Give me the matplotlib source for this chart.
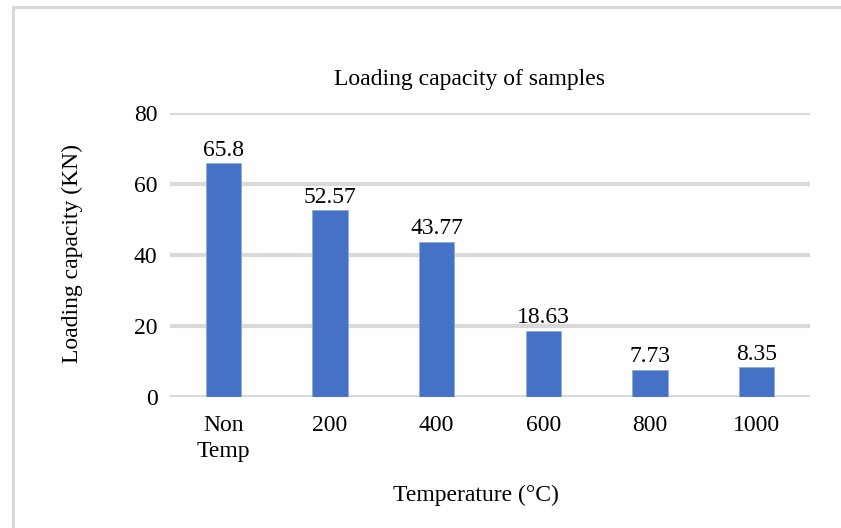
import matplotlib
matplotlib.use('Agg')
import matplotlib.pyplot as plt
from matplotlib.patches import Rectangle

categories = ['Non\nTemp', '200', '400', '600', '800', '1000']
loading_kn = [65.8, 52.57, 43.77, 18.63, 7.73, 8.35]
value_labels = ['65.8', '52.57', '43.77', '18.63', '7.73', '8.35']
yticks = [0, 20, 40, 60, 80]

plt.rcParams['font.family'] = ['Liberation Serif', 'DejaVu Serif']

W, H = 841, 528
fig = plt.figure(figsize=(W / 100, H / 100), dpi=100)

# outer chart frame (only the left and top edges show)
fig.patches.append(Rectangle((12 / W, -0.1), 3 / W, 1.1 - 6 / H, transform=fig.transFigure,
                             facecolor='#d9d9d9', edgecolor='none'))
fig.patches.append(Rectangle((12 / W, 1 - 9 / H), 1.0, 3 / H, transform=fig.transFigure,
                             facecolor='#d9d9d9', edgecolor='none'))

ax = fig.add_axes([170 / W, 1 - 397 / H, 640 / W, 284 / H])
x = list(range(len(categories)))
ax.bar(x, loading_kn, width=0.33, color='#4472c4', edgecolor='#8eaadb', linewidth=0.6, zorder=3)

for xi, v, lab in zip(x, loading_kn, value_labels):
    ax.annotate(lab, (xi, v), xytext=(0, 2), textcoords='offset points',
                ha='center', va='bottom', fontsize=17)

ax.set_xlim(-0.5, len(categories) - 0.5)
ax.set_ylim(0, 80)
ax.set_yticks(yticks)
ax.set_xticks(x)
ax.set_xticklabels(categories, fontsize=17, linespacing=1.3)
ax.tick_params(axis='y', labelsize=17, length=0, pad=9)
ax.tick_params(axis='x', length=0, pad=13)
ax.grid(axis='y', color='#d9d9d9', linewidth=3, zorder=0)
ax.set_axisbelow(True)
for s in ax.spines.values():
    s.set_visible(False)

fig.text(470 / W, 1 - 79 / H, 'Loading capacity of samples', ha='center', va='center', fontsize=17)
fig.text(72 / W, 1 - 253 / H, 'Loading capacity (KN)', ha='center', va='center', rotation=90, fontsize=17)
fig.text(476 / W, 1 - 495 / H, 'Temperature (°C)', ha='center', va='center', fontsize=17)

fig.savefig('out.png', dpi=100)
